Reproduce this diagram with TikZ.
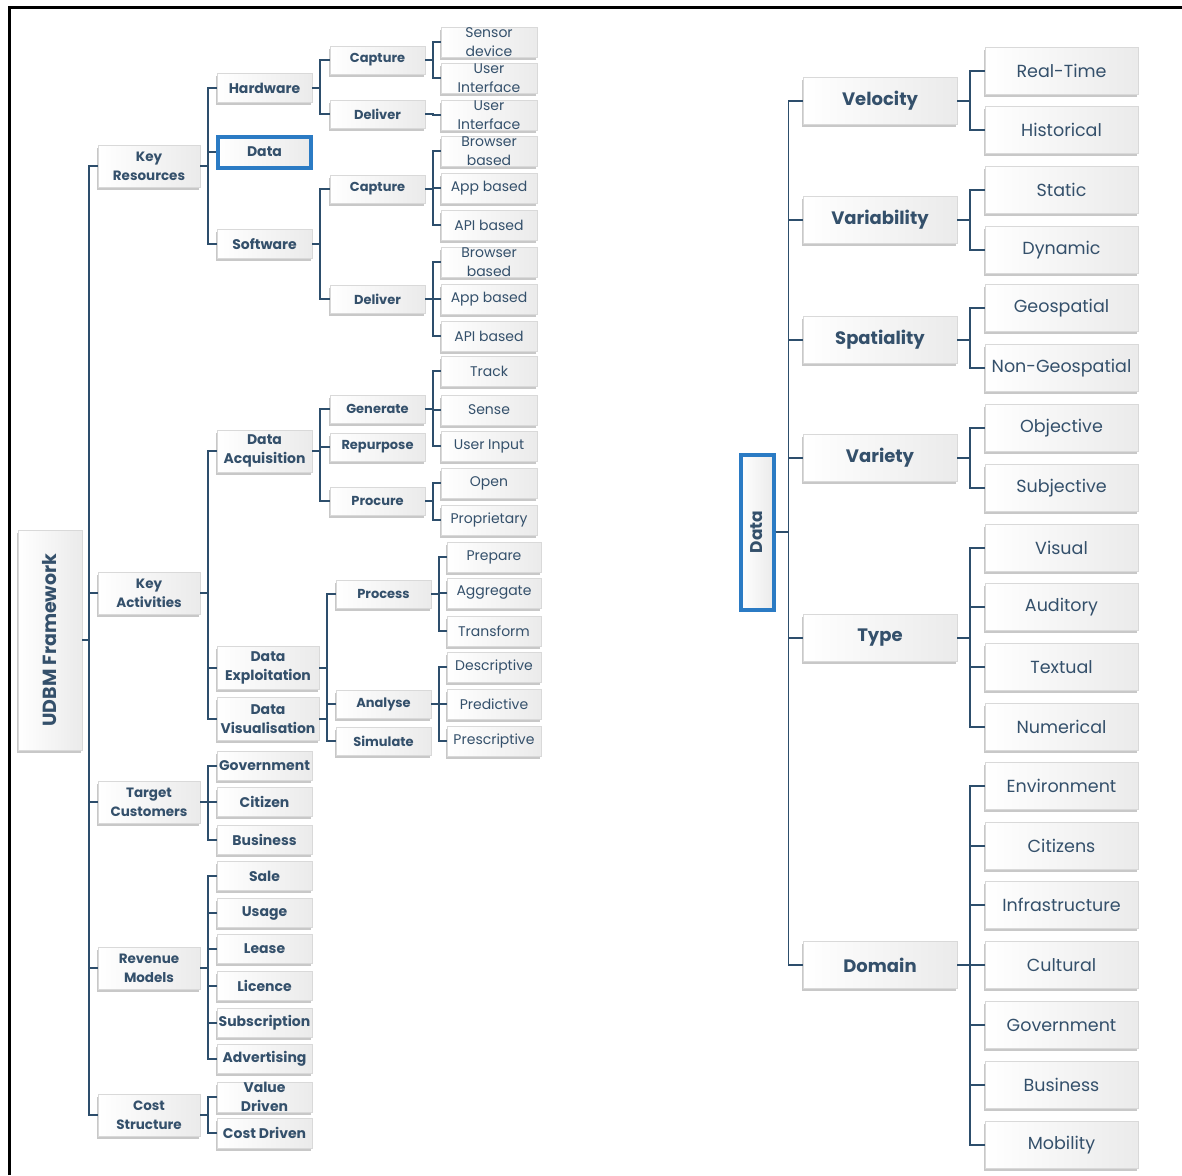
\documentclass[tikz,border=0pt]{standalone}
\usepackage{fontspec}
\setmainfont{Poppins}
\usetikzlibrary{shadows}
\definecolor{txt}{HTML}{34506B}
\definecolor{ln}{HTML}{2D4E6C}
\definecolor{hl}{HTML}{2B7BC4}
\tikzset{
  box/.style={rectangle, inner sep=0pt, left color=white, right color=gray!16,
    draw=gray!30, line width=0.5pt, text=txt, align=center,
    drop shadow={shadow xshift=-1.5pt, shadow yshift=-2.5pt, fill=gray!60, opacity=0.7}},
  hlbox/.style={box, draw=hl, line width=4pt},
  lone/.style={box, minimum width=102pt, minimum height=42pt, font=\fontsize{13.5}{19}\selectfont\bfseries},
  ltwo/.style={box, minimum width=95pt, minimum height=29pt, font=\fontsize{14}{19}\selectfont\bfseries},
  lthree/.style={box, minimum width=95pt, minimum height=28pt, font=\fontsize{13}{15}\selectfont\bfseries},
  lleaf/.style={box, minimum width=96pt, minimum height=30pt, font=\fontsize{14}{18.5}\selectfont},
  rone/.style={box, minimum width=154pt, minimum height=47pt, font=\fontsize{18}{20}\selectfont\bfseries},
  rleaf/.style={box, minimum width=153pt, minimum height=47pt, font=\fontsize{17.5}{20}\selectfont},
  conn/.style={draw=ln, line width=1.8pt}
}
\newcommand\elbow[3]{\draw[conn] (#1.east) -- ++(#2,0) |- (#3.west);}
\begin{document}
\begin{tikzpicture}[x=1pt,y=-1pt]
\useasboundingbox (0,0) rectangle (1182,1175);
\fill[white] (0,0) rectangle (1182,1175);
\draw[line width=3pt] (9,1175) -- (9,7) -- (1182,7);

% ---------------- left tree ----------------
\node[box, rotate=90, minimum width=220pt, minimum height=64pt, font=\fontsize{19}{20}\selectfont\bfseries] (udbm) at (50,640) {UDBM Framework};

\node[lone] (kr) at (149,166) {Key\\Resources};
\node[lone] (ka) at (149,593) {Key\\Activities};
\node[lone] (tc) at (149,802) {Target\\Customers};
\node[lone] (rm) at (149,968) {Revenue\\Models};
\node[lone] (cs) at (149,1115) {Cost\\Structure};

\node[ltwo] (hw) at (264.5,88) {Hardware};
\node[ltwo, hlbox, minimum width=93pt, minimum height=31pt] (dat) at (264.5,152) {Data};
\node[ltwo] (sw) at (264.5,244) {Software};
\node[ltwo, minimum height=42pt] (da) at (264.5,451) {Data\\Acquisition};
\node[ltwo, minimum width=102pt, minimum height=43pt] (de) at (268,668) {Data\\Exploitation};
\node[ltwo, minimum width=102pt, minimum height=43pt] (dv) at (268,719) {Data\\Visualisation};
\node[ltwo] (gov) at (264.5,766) {Government};
\node[ltwo] (cit) at (264.5,802) {Citizen};
\node[ltwo] (bus) at (264.5,840) {Business};
\node[ltwo] (sale) at (264.5,876) {Sale};
\node[ltwo] (usage) at (264.5,913) {Usage};
\node[ltwo] (lease) at (264.5,949) {Lease};
\node[ltwo] (lic) at (264.5,986) {Licence};
\node[ltwo] (subs) at (264.5,1023) {Subscription};
\node[ltwo] (adv) at (264.5,1059) {Advertising};
\node[ltwo, minimum height=30pt] (vd) at (264.5,1097) {Value\\Driven};
\node[ltwo, minimum height=30pt] (cd) at (264.5,1133) {Cost Driven};

\node[lthree] (hwcap) at (377.5,60) {Capture};
\node[lthree] (hwdel) at (377.5,114) {Deliver};
\node[lthree] (swcap) at (377.5,189) {Capture};
\node[lthree] (swdel) at (377.5,299) {Deliver};
\node[lthree] (gen) at (377.5,409) {Generate};
\node[lthree] (rep) at (377.5,447) {Repurpose};
\node[lthree] (proc) at (377.5,501) {Procure};
\node[lthree] (pcs) at (383.5,594) {Process};
\node[lthree] (ana) at (383.5,704) {Analyse};
\node[lthree] (sim) at (383.5,741) {Simulate};

\node[lleaf] (sen) at (489,42) {Sensor\\device};
\node[lleaf] (uia) at (489,78) {User\\Interface};
\node[lleaf] (uib) at (489,115) {User\\Interface};
\node[lleaf] (bba) at (489,151) {Browser\\based};
\node[lleaf] (aba) at (489,188) {App based};
\node[lleaf] (apa) at (489,225) {API based};
\node[lleaf] (bbb) at (489,262) {Browser\\based};
\node[lleaf] (abb) at (489,299) {App based};
\node[lleaf] (apb) at (489,336) {API based};
\node[lleaf] (trk) at (489,371) {Track};
\node[lleaf] (sns) at (489,410) {Sense};
\node[lleaf] (uin) at (489,446) {User Input};
\node[lleaf] (opn) at (489,483) {Open};
\node[lleaf] (prp) at (489,520) {Proprietary};
\node[lleaf, minimum width=94pt] (pre) at (494,557) {Prepare};
\node[lleaf, minimum width=94pt] (agg) at (494,593) {Aggregate};
\node[lleaf, minimum width=94pt] (trf) at (494,631) {Transform};
\node[lleaf, minimum width=94pt] (des) at (494,667) {Descriptive};
\node[lleaf, minimum width=94pt] (prd) at (494,704) {Predictive};
\node[lleaf, minimum width=94pt] (prs) at (494,741) {Prescriptive};

\foreach \c in {kr,ka,tc,rm,cs} {\draw[conn] (udbm.south) -- ++(7,0) |- (\c.west);}
\foreach \c in {hw,dat,sw} {\elbow{kr}{8}{\c}}
\foreach \c in {da,de,dv} {\elbow{ka}{8}{\c}}
\foreach \c in {gov,cit,bus} {\elbow{tc}{8}{\c}}
\foreach \c in {sale,usage,lease,lic,subs,adv} {\elbow{rm}{8}{\c}}
\foreach \c in {vd,cd} {\elbow{cs}{8}{\c}}
\foreach \c in {hwcap,hwdel} {\elbow{hw}{8}{\c}}
\foreach \c in {swcap,swdel} {\elbow{sw}{8}{\c}}
\foreach \c in {gen,rep,proc} {\elbow{da}{8}{\c}}
\foreach \c in {pcs,ana} {\elbow{de}{8}{\c}}
\foreach \c in {ana,sim} {\elbow{dv}{8}{\c}}
\foreach \c in {sen,uia} {\elbow{hwcap}{8}{\c}}
\elbow{hwdel}{8}{uib}
\foreach \c in {bba,aba,apa} {\elbow{swcap}{8}{\c}}
\foreach \c in {bbb,abb,apb} {\elbow{swdel}{8}{\c}}
\foreach \c in {trk,sns,uin} {\elbow{gen}{8}{\c}}
\foreach \c in {opn,prp} {\elbow{proc}{8}{\c}}
\foreach \c in {pre,agg,trf} {\elbow{pcs}{8}{\c}}
\foreach \c in {des,prd,prs} {\elbow{ana}{8}{\c}}

% ---------------- right tree ----------------
\node[box, hlbox, rotate=90, minimum width=155pt, minimum height=33pt, font=\fontsize{17}{20}\selectfont\bfseries] (rdata) at (757,532) {Data};

\node[rone] (vel) at (880,101) {Velocity};
\node[rone] (var) at (880,220) {Variability};
\node[rone] (spa) at (880,340) {Spatiality};
\node[rone] (vty) at (880,458) {Variety};
\node[rone] (typ) at (880,638) {Type};
\node[rone] (dom) at (880,965) {Domain};

\node[rleaf] (rt) at (1061.5,71) {Real-Time};
\node[rleaf] (his) at (1061.5,130) {Historical};
\node[rleaf] (sta) at (1061.5,190) {Static};
\node[rleaf] (dyn) at (1061.5,250) {Dynamic};
\node[rleaf] (geo) at (1061.5,308) {Geospatial};
\node[rleaf] (ngeo) at (1061.5,368) {Non-Geospatial};
\node[rleaf] (obj) at (1061.5,428) {Objective};
\node[rleaf] (sub) at (1061.5,488) {Subjective};
\node[rleaf] (vis) at (1061.5,548) {Visual};
\node[rleaf] (aud) at (1061.5,607) {Auditory};
\node[rleaf] (tex) at (1061.5,667) {Textual};
\node[rleaf] (num) at (1061.5,727) {Numerical};
\node[rleaf] (env) at (1061.5,786) {Environment};
\node[rleaf] (rcit) at (1061.5,846) {Citizens};
\node[rleaf] (inf) at (1061.5,905) {Infrastructure};
\node[rleaf] (cul) at (1061.5,965) {Cultural};
\node[rleaf] (rgov) at (1061.5,1025) {Government};
\node[rleaf] (rbus) at (1061.5,1085) {Business};
\node[rleaf] (mob) at (1061.5,1145) {Mobility};

\foreach \c in {vel,var,spa,vty,typ,dom} {\draw[conn] (rdata.south) -- ++(13,0) |- (\c.west);}
\foreach \c in {rt,his} {\elbow{vel}{13}{\c}}
\foreach \c in {sta,dyn} {\elbow{var}{13}{\c}}
\foreach \c in {geo,ngeo} {\elbow{spa}{13}{\c}}
\foreach \c in {obj,sub} {\elbow{vty}{13}{\c}}
\foreach \c in {vis,aud,tex,num} {\elbow{typ}{13}{\c}}
\foreach \c in {env,rcit,inf,cul,rgov,rbus,mob} {\elbow{dom}{13}{\c}}
\end{tikzpicture}
\end{document}
